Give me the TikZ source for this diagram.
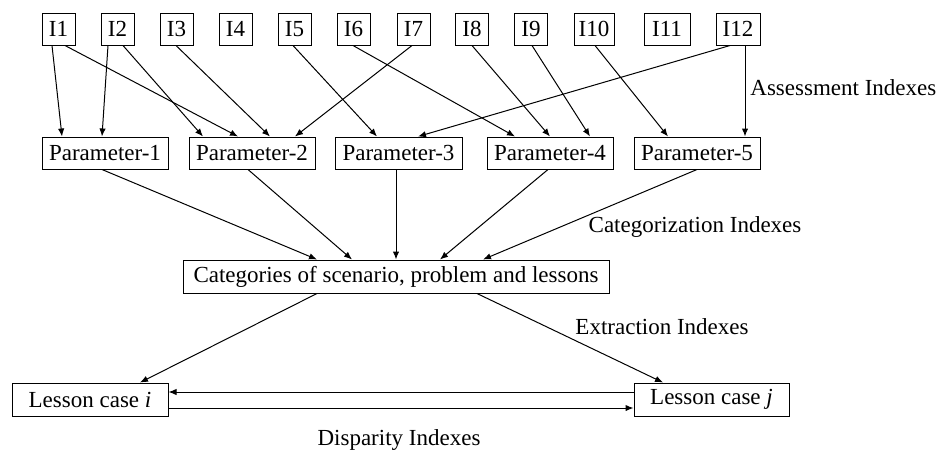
\documentclass[tikz,border=0pt]{standalone}
\usepackage{fontspec}
\setmainfont{Liberation Serif}
\usetikzlibrary{arrows.meta}
\begin{document}
\begin{tikzpicture}[x=0.5pt,y=-0.5pt,
  every node/.style={font=\fontsize{11.5}{13}\selectfont},
  box/.style={draw, line width=0.5pt, inner sep=0pt, minimum height=16pt, align=center},
  arr/.style={line width=0.5pt, -{Latex[length=4pt,width=3.2pt]}},
  lbl/.style={inner sep=0pt}]
\useasboundingbox (0,0) rectangle (940,452);
% index row
\node[box, minimum width=16.5pt] (I1) at (58.5,29) {I1};
\node[box, minimum width=16.5pt] (I2) at (117.5,29) {I2};
\node[box, minimum width=16.5pt] (I3) at (176.5,29) {I3};
\node[box, minimum width=16.5pt] (I4) at (235.5,29) {I4};
\node[box, minimum width=16.5pt] (I5) at (294.5,29) {I5};
\node[box, minimum width=16.5pt] (I6) at (353.5,29) {I6};
\node[box, minimum width=16.5pt] (I7) at (413.5,29) {I7};
\node[box, minimum width=16.5pt] (I8) at (472,29) {I8};
\node[box, minimum width=16.5pt] (I9) at (531,29) {I9};
\node[box, minimum width=20pt] (I10) at (594,29) {I10};
\node[box, minimum width=23pt] (I11) at (667,29) {I11};
\node[box, minimum width=22pt] (I12) at (738,29) {I12};
% parameter row
\node[box, minimum width=63pt] (P1) at (105,153) {Parameter-1};
\node[box, minimum width=63pt] (P2) at (252,153) {Parameter-2};
\node[box, minimum width=63.5pt] (P3) at (398.5,153) {Parameter-3};
\node[box, minimum width=63pt] (P4) at (550,153) {Parameter-4};
\node[box, minimum width=63pt] (P5) at (697,153) {Parameter-5};
% categories
\node[box, minimum width=213pt, minimum height=16.5pt] (C) at (396,276.5) {Categories of scenario, problem and lessons};
% lessons
\node[box, minimum width=78pt, minimum height=16.5pt] (Li) at (90,399.5) {Lesson case \textit{i}};
\node[box, minimum width=77.5pt, minimum height=16.5pt] (Lj) at (711.5,399.5) {Lesson case \textit{j}};
% labels
\node[lbl, anchor=west] (la) at (750,88) {Assessment Indexes};
\node[lbl] (lc) at (695,227) {Categorization Indexes};
\node[lbl] (le) at (662,327) {Extraction Indexes};
\node[lbl] (ld) at (399,440) {Disparity Indexes};
% index -> parameter
\draw[arr] (I1.south -| 52,0) -- (P1.north -| 62,0);
\draw[arr] (I1.south -| 65,0) -- (P2.north -| 238,0);
\draw[arr] (I2.south -| 108,0) -- (P1.north -| 102,0);
\draw[arr] (I2.south -| 123,0) -- (P2.north -| 203,0);
\draw[arr] (I3.south -| 176,0) -- (P2.north -| 270,0);
\draw[arr] (I5.south -| 293,0) -- (P3.north -| 377,0);
\draw[arr] (I6.south -| 353,0) -- (P4.north -| 515,0);
\draw[arr] (I7.south -| 412,0) -- (P2.north -| 295,0);
\draw[arr] (I8.south -| 472,0) -- (P4.north -| 550,0);
\draw[arr] (I9.south -| 532,0) -- (P4.north -| 590,0);
\draw[arr] (I10.south -| 595,0) -- (P5.north -| 668,0);
\draw[arr] (I12.south -| 730,0) -- (P3.north -| 418,0);
\draw[arr] (I12.south -| 745,0) -- (P5.north -| 745,0);
% parameter -> categories
\draw[arr] (P1.south -| 102,0) -- (C.north -| 317,0);
\draw[arr] (P2.south -| 248,0) -- (C.north -| 352,0);
\draw[arr] (P3.south -| 396,0) -- (C.north -| 396,0);
\draw[arr] (P4.south -| 548,0) -- (C.north -| 440,0);
\draw[arr] (P5.south -| 697,0) -- (C.north -| 483,0);
% categories -> lessons
\draw[arr] (C.south -| 317,0) -- (Li.north -| 140,0);
\draw[arr] (C.south -| 477,0) -- (Lj.north -| 663,0);
% disparity
\draw[arr] (Lj.west |- 0,392) -- (Li.east |- 0,392);
\draw[arr] (Li.east |- 0,408) -- (Lj.west |- 0,408);
\end{tikzpicture}
\end{document}
